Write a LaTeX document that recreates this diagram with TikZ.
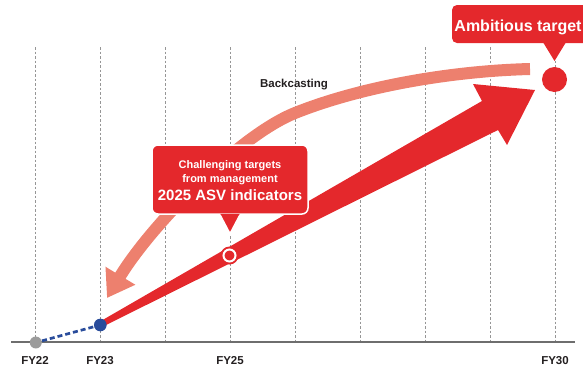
\documentclass[tikz,border=0pt]{standalone}
\usepackage{fontspec}
\setmainfont{Liberation Sans}
\usetikzlibrary{arrows.meta}
\definecolor{tred}{RGB}{228,40,44}
\definecolor{tsalmon}{RGB}{237,128,110}
\definecolor{tblue}{RGB}{41,76,155}
\definecolor{tdot}{RGB}{155,155,155}
\definecolor{tgrid}{RGB}{150,150,150}
\definecolor{taxis}{RGB}{110,110,110}
\definecolor{ttext}{RGB}{35,31,32}
\begin{document}
\begin{tikzpicture}[x=1pt,y=-1pt,
  gridline/.style={draw=tgrid, line width=0.8pt, dash pattern=on 2.5pt off 2pt},
  yearlabel/.style={anchor=base, font=\bfseries\fontsize{11.5}{12}\selectfont, text=ttext, inner sep=0pt},
  calltext/.style={anchor=base, text=white, inner sep=0pt},
  dotnode/.style={circle, inner sep=0pt},
]
\useasboundingbox (0,0) rectangle (583,365);
\clip (0,0) rectangle (583,365);

% grid
\foreach \i in {0,...,8}
  \draw[gridline] (35+65*\i,47) -- (35+65*\i,342);
% axis
\coordinate (axL) at (11,342);
\coordinate (axR) at (575,342);
\draw[draw=taxis, line width=1.5pt] (axL) -- (axR);

% backcasting arc
\coordinate (bcS) at (530,69);
\coordinate (bcM) at (295,113);
\coordinate (bcE) at (107,298);
\draw[tsalmon, line width=12pt, -{Triangle[length=26pt,width=33pt]}]
  (bcS) .. controls (450,71) and (360,87) .. (bcM)
        .. controls (239.3,135.3) and (151,225) .. (bcE);

% red wedge arrow
\fill[tred] (100,321.5) -- (482,101) -- (473,84) -- (535,90) -- (507,145)
  -- (498,130) -- (101,327.5) -- cycle;

% dots
\node[dotnode, fill=tdot, minimum size=12pt] (d22) at (35.8,342.5) {};
\node[dotnode, fill=tblue, minimum size=12.7pt] (d23) at (100.3,325) {};
\draw[tblue, line width=2.7pt, dash pattern=on 5pt off 3pt, shorten <=6.5pt, shorten >=6pt] (d22.center) -- (d23.center);
\node[dotnode, fill=tred, minimum size=18pt] (d25) at (229.5,255.5) {};
\draw[white, line width=2pt, fill=tred] (d25.center) circle[radius=6pt];
\node[dotnode, fill=tred, minimum size=25pt] (d30) at (554.5,79.5) {};

% Ambitious target callout
\node[fill=tred, rounded corners=5pt, minimum width=138pt, minimum height=38pt, inner sep=0pt] (ambbox) at (521,24) {};
\fill[tred] ([xshift=22pt, yshift=1pt]ambbox.south) -- (554.5,61) -- ([xshift=45pt, yshift=1pt]ambbox.south) -- cycle;
\node[calltext, font=\bfseries\fontsize{16}{18}\selectfont] (ambtext) at (518,31.5) {Ambitious target};

% Challenging callout
\node[fill=tred, draw=white, line width=1.5pt, rounded corners=6pt, minimum width=156pt, minimum height=69pt, inner sep=0pt] (chbox) at (230,179.5) {};
\fill[tred] ([xshift=-10pt, yshift=1pt]chbox.south) -- ([yshift=-19pt]chbox.south) -- ([xshift=10pt, yshift=1pt]chbox.south) -- cycle;
\draw[white, line width=1.5pt, line join=miter] ([xshift=-10pt]chbox.south) -- ([yshift=-19pt]chbox.south) -- ([xshift=10pt]chbox.south);
\node[calltext, font=\bfseries\fontsize{11}{12}\selectfont] (ch1) at (230,168.3) {Challenging targets};
\node[calltext, font=\bfseries\fontsize{11}{12}\selectfont] (ch2) at (230,182.7) {from management};
\node[calltext, font=\bfseries\fontsize{15}{16}\selectfont] (ch3) at (230,200.7) {2025 ASV indicators};

% Backcasting label
\node[anchor=base, inner sep=0pt, text=ttext, font=\bfseries\fontsize{11.5}{12}\selectfont] (bclabel) at (294,87.3) {Backcasting};

% year labels
\node[yearlabel] (fy22) at (35,364) {FY22};
\node[yearlabel] (fy23) at (100,364) {FY23};
\node[yearlabel] (fy25) at (230,364) {FY25};
\node[yearlabel] (fy30) at (555,364) {FY30};
\end{tikzpicture}
\end{document}
